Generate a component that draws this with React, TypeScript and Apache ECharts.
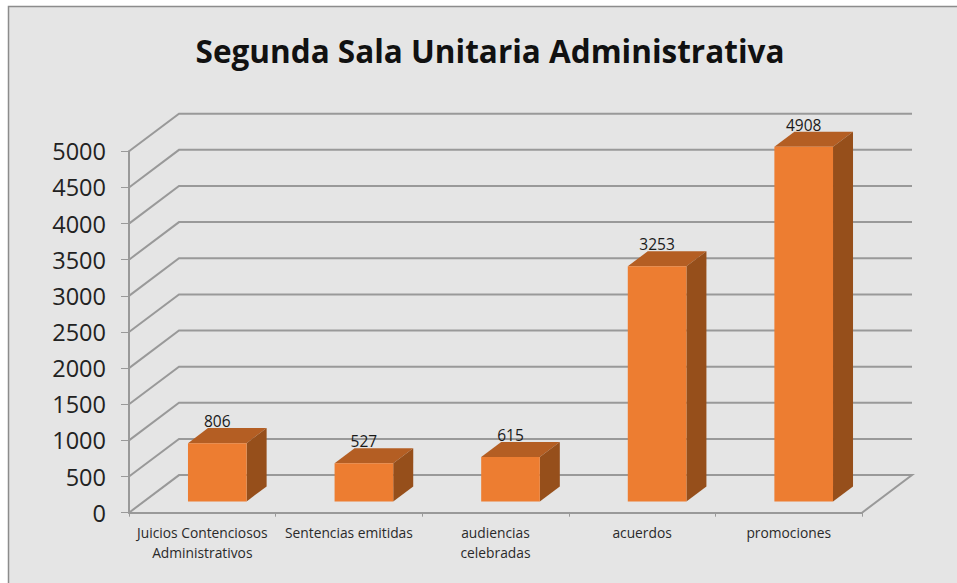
import React, { useEffect, useRef } from "react";
import * as echarts from "echarts";

const TITLE = "Segunda Sala Unitaria Administrativa";
const categories = [
  "Juicios Contenciosos\nAdministrativos",
  "Sentencias emitidas",
  "audiencias\ncelebradas",
  "acuerdos",
  "promociones",
];
const values = [806, 527, 615, 3253, 4908];
const gridTicks = [0, 500, 1000, 1500, 2000, 2500, 3000, 3500, 4000, 4500, 5000];

const WALL_DX = 50;
const WALL_DY = -37.6;
const GRID_COLOR = "#999999";
const FONT = "'Open Sans', sans-serif";

export default function App() {
  const ref = useRef<HTMLDivElement>(null);
  useEffect(() => {
    if (!ref.current) return;
    const chart = echarts.init(ref.current, undefined, { renderer: "svg" });
    chart.setOption({
      animation: false,
      backgroundColor: "#ffffff",
      title: {
        text: TITLE,
        left: 485,
        top: 29,
        textAlign: "center",
        textStyle: { fontFamily: FONT, fontWeight: "bold", fontSize: 31.5, color: "#111111" },
      },
      graphic: [
        {
          type: "rect",
          z: -10,
          silent: true,
          shape: { x: 8.5, y: 6.5, width: 960, height: 590 },
          style: { fill: "#e5e5e5", stroke: "#8c8c8c", lineWidth: 1.5 },
        },
      ],
      grid: { left: 129, right: 95, top: 151.3, bottom: 70.3 },
      xAxis: {
        type: "category",
        data: categories,
        axisLine: { lineStyle: { color: GRID_COLOR, width: 2 } },
        axisTick: { show: true, length: 4, lineStyle: { color: GRID_COLOR } },
        axisLabel: { fontFamily: FONT, fontSize: 13.8, color: "#2a2a2a", lineHeight: 20, margin: 10, interval: 0 },
      },
      yAxis: {
        type: "value",
        min: 0,
        max: 5000,
        interval: 500,
        axisLine: { show: true, lineStyle: { color: GRID_COLOR, width: 2 } },
        axisTick: { show: true, length: 8, lineStyle: { color: GRID_COLOR } },
        splitLine: { show: false },
        axisLabel: {
          fontFamily: FONT,
          fontSize: 23.5,
          color: "#222222",
          margin: 23,
          padding: [3, 0, 0, 0],
          formatter: (v: number) => String(v),
        },
      },
      series: [
        {
          type: "custom",
          z: 1,
          silent: true,
          data: gridTicks,
          encode: { y: 0 },
          renderItem: (params: any, api: any) => {
            const cs = params.coordSys;
            const y = api.coord([0, api.value(0)])[1];
            const x0 = cs.x;
            const x1 = cs.x + cs.width;
            const pts = [
              [x0, y],
              [x0 + WALL_DX, y + WALL_DY],
              [x1 + WALL_DX, y + WALL_DY],
            ];
            if (api.value(0) === 0) pts.push([x1, y]);
            return {
              type: "polyline",
              shape: { points: pts },
              style: { stroke: GRID_COLOR, lineWidth: 2, fill: "none" },
            };
          },
        },
        {
          type: "custom",
          z: 2,
          silent: true,
          data: values.map((v, i) => [i, v]),
          encode: { x: 0, y: 1 },
          renderItem: (_params: any, api: any) => {
            const cat = api.value(0);
            const val = api.value(1);
            const top = api.coord([cat, val]);
            const base = api.coord([cat, 0]);
            const band = api.size([1, 0])[0];
            const w = band * 0.4;
            const fx = 0.3 * WALL_DX;
            const fy = 0.3 * WALL_DY;
            const ddx = 0.4 * WALL_DX;
            const ddy = 0.4 * WALL_DY;
            const l = top[0] + fx - w / 2;
            const r = l + w;
            const t = top[1] + fy;
            const b = base[1] + fy;
            return {
              type: "group",
              children: [
                {
                  type: "polygon",
                  shape: { points: [[l, t], [r, t], [r + ddx, t + ddy], [l + ddx, t + ddy]] },
                  style: { fill: "#b45e23" },
                },
                {
                  type: "polygon",
                  shape: { points: [[r, t], [r + ddx, t + ddy], [r + ddx, b + ddy], [r, b]] },
                  style: { fill: "#964f1b" },
                },
                {
                  type: "rect",
                  shape: { x: l, y: t, width: w, height: b - t },
                  style: { fill: "#ed7d31" },
                },
                {
                  type: "text",
                  style: {
                    text: String(val),
                    x: l + w / 2,
                    y: t - 22,
                    align: "center",
                    verticalAlign: "middle",
                    fontFamily: FONT,
                    fontSize: 15.5,
                    fill: "#1a1a1a",
                  },
                },
              ],
            };
          },
        },
      ],
    });
    return () => chart.dispose();
  }, []);
  return <div ref={ref} style={{ position: "absolute", left: 0, top: 0, width: 957, height: 583 }} />;
}
